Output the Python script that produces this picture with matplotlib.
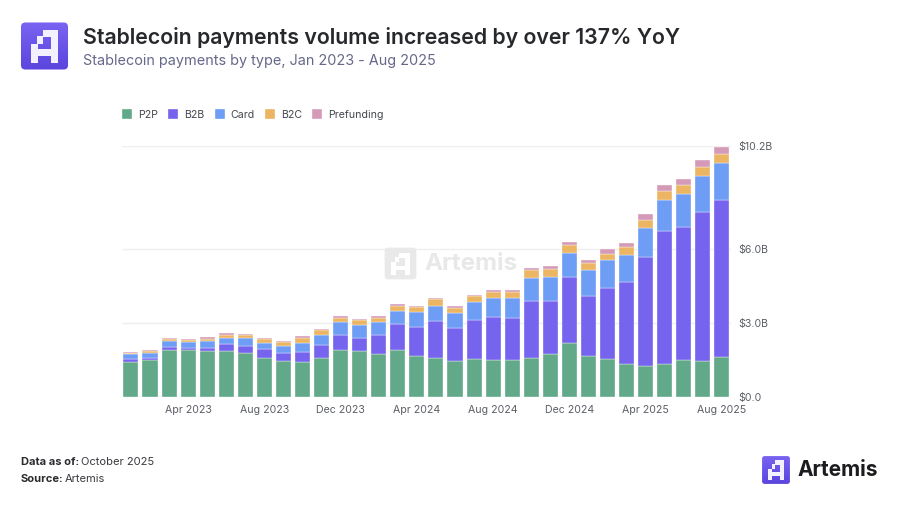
import numpy as np
import matplotlib
matplotlib.use("Agg")
import matplotlib.pyplot as plt
from matplotlib.patches import FancyBboxPatch, PathPatch
from matplotlib.path import Path
from matplotlib.colors import LinearSegmentedColormap

plt.rcParams['font.family'] = ['Inter', 'DejaVu Sans']

months = [f"{m} {y}" for y in (2023, 2024, 2025) for m in
          "Jan Feb Mar Apr May Jun Jul Aug Sep Oct Nov Dec".split()][:32]
tick_labels = ["Apr 2023", "Aug 2023", "Dec 2023", "Apr 2024", "Aug 2024", "Dec 2024", "Apr 2025", "Aug 2025"]
y_ticks = [0.0, 3.0, 6.0, 10.2]
y_tick_labels = ["$0.0", "$3.0B", "$6.0B", "$10.2B"]

p2p = [1.41, 1.49, 1.88, 1.88, 1.87, 1.86, 1.76, 1.57, 1.44, 1.42, 1.56, 1.91, 1.86, 1.73, 1.91, 1.64,
       1.57, 1.46, 1.53, 1.48, 1.48, 1.57, 1.72, 2.17, 1.65, 1.52, 1.33, 1.25, 1.34, 1.49, 1.46, 1.61]
b2b = [0.11, 0.09, 0.14, 0.09, 0.12, 0.30, 0.31, 0.37, 0.35, 0.39, 0.54, 0.62, 0.53, 0.77, 1.04, 1.19,
       1.52, 1.33, 1.59, 1.78, 1.73, 2.32, 2.17, 2.71, 2.46, 2.90, 3.32, 4.43, 5.40, 5.41, 6.07, 6.40]
card = [0.22, 0.20, 0.23, 0.24, 0.26, 0.23, 0.30, 0.26, 0.27, 0.39, 0.43, 0.49, 0.53, 0.53, 0.53, 0.60,
        0.61, 0.61, 0.72, 0.76, 0.80, 0.94, 0.99, 0.98, 1.04, 1.13, 1.11, 1.19, 1.28, 1.33, 1.44, 1.50]
b2c = [0.05, 0.08, 0.09, 0.11, 0.11, 0.14, 0.12, 0.14, 0.15, 0.20, 0.19, 0.20, 0.20, 0.19, 0.23, 0.23,
       0.26, 0.22, 0.26, 0.26, 0.27, 0.33, 0.31, 0.31, 0.28, 0.27, 0.33, 0.33, 0.35, 0.38, 0.38, 0.35]
prefunding = [0.04, 0.04, 0.04, 0.04, 0.05, 0.05, 0.05, 0.05, 0.05, 0.05, 0.05, 0.05, 0.04, 0.07, 0.05, 0.04,
              0.04, 0.05, 0.04, 0.05, 0.08, 0.08, 0.11, 0.12, 0.15, 0.19, 0.16, 0.23, 0.24, 0.26, 0.27, 0.30]

series = [("P2P", p2p, "#62A98A"), ("B2B", b2b, "#7664EE"), ("Card", card, "#6D9DF5"),
          ("B2C", b2c, "#EBB563"), ("Prefunding", prefunding, "#D59AB8")]

W, H = 906, 516
fig = plt.figure(figsize=(W / 100, H / 100), dpi=100, facecolor="white")
fx = lambda px: px / W
fy = lambda py: 1 - py / H

ax = fig.add_axes([fx(122), fy(396.7), (731 - 122) / W, (396.7 - 146) / H])
x = np.arange(32)
bottom = np.zeros(32)
for name, vals, col in series:
    ax.bar(x, vals, 0.79, bottom=bottom, color=col, label=name, edgecolor="#ffffff", linewidth=0.25, zorder=3)
    bottom += np.array(vals)

ax.set_xlim(-0.47, 31.48)
ax.set_ylim(0, 10.2)
ax.set_yticks(y_ticks, y_tick_labels)
ax.set_xticks([months.index(t) for t in tick_labels], tick_labels)
ax.yaxis.tick_right()
ax.tick_params(axis="both", length=0, labelsize=7.6, labelcolor="#5b5f66")
ax.tick_params(axis="y", pad=5.5)
ax.tick_params(axis="x", pad=6)
ax.grid(axis="y", color="#efeff1", linewidth=1, zorder=0)
ax.grid(axis="x", visible=False)
for s in ax.spines.values():
    s.set_visible(False)

ax.legend(loc="lower left", bbox_to_anchor=(fx(122), fy(119.5)), bbox_transform=fig.transFigure,
          ncol=5, frameon=False, fontsize=7.6, handlelength=0.95, handleheight=1.0, handletextpad=0.55,
          columnspacing=0.98, borderpad=0, borderaxespad=0, labelcolor="#44474e")

OUTER = [(0.465, 0.167), (0.778, 0.167), (0.778, 0.847), (0.625, 0.847), (0.625, 0.708), (0.375, 0.708),
         (0.375, 0.847), (0.222, 0.847), (0.222, 0.465), (0.347, 0.465), (0.347, 0.306), (0.465, 0.306)]
HOLE = [(0.465, 0.326), (0.465, 0.465), (0.375, 0.465), (0.375, 0.569), (0.625, 0.569), (0.625, 0.326)]


def ring(pts):
    return list(pts) + [pts[0]], [Path.MOVETO] + [Path.LINETO] * (len(pts) - 1) + [Path.CLOSEPOLY]


def logo(x0, y0, size, grey=False):
    a = fig.add_axes([fx(x0), fy(y0 + size), size / W, size / H])
    a.set_xlim(0, 1)
    a.set_ylim(1, 0)
    a.axis("off")
    colors = ["#e9e9e9", "#e9e9e9"] if grey else ["#7a64f2", "#5a45de"]
    cmap = LinearSegmentedColormap.from_list("c", colors)
    img = a.imshow(np.linspace(0, 1, 64)[:, None], extent=(0, 1, 1, 0), cmap=cmap, aspect="auto", zorder=1)
    clip = FancyBboxPatch((0.02, 0.02), 0.96, 0.96, boxstyle="round,pad=0,rounding_size=0.09",
                          transform=a.transData, fc="none", ec="none")
    a.add_patch(clip)
    img.set_clip_path(clip)
    v1, c1 = ring(OUTER)
    v2, c2 = ring(HOLE)
    a.add_patch(PathPatch(Path(v1 + v2, c1 + c2), fc="#ffffff" if grey else "#f3f0ff", ec="none", zorder=2))
    return a


logo(20, 21.5, 49)
logo(761.5, 455.5, 29)
logo(384, 247, 33, grey=True)

fig.text(fx(83), fy(37), "Stablecoin payments volume increased by over 137% YoY", fontsize=15.35,
         fontweight="semibold", color="#26282c", va="center", ha="left")
fig.text(fx(83), fy(61), "Stablecoin payments by type, Jan 2023 - Aug 2025", fontsize=10.4,
         color="#66688a", va="center", ha="left")
fig.text(fx(424), fy(264), "Artemis", fontsize=17.4, fontweight="bold", color="#e8e8e8", va="center", ha="left", zorder=5)

fig.text(fx(21), fy(462), "Data as of:", fontsize=8, fontweight="bold", color="#2a2a2e", va="center", ha="left")
fig.text(fx(81), fy(462), "October 2025", fontsize=8, color="#3a3a40", va="center", ha="left")
fig.text(fx(21), fy(479), "Source:", fontsize=8, fontweight="bold", color="#2a2a2e", va="center", ha="left")
fig.text(fx(65), fy(479), "Artemis", fontsize=8, color="#3a3a40", va="center", ha="left")
fig.text(fx(798), fy(470), "Artemis", fontsize=15, fontweight="bold", color="#1c1c20", va="center", ha="left")

fig.savefig("out.png", dpi=100, facecolor="white")
